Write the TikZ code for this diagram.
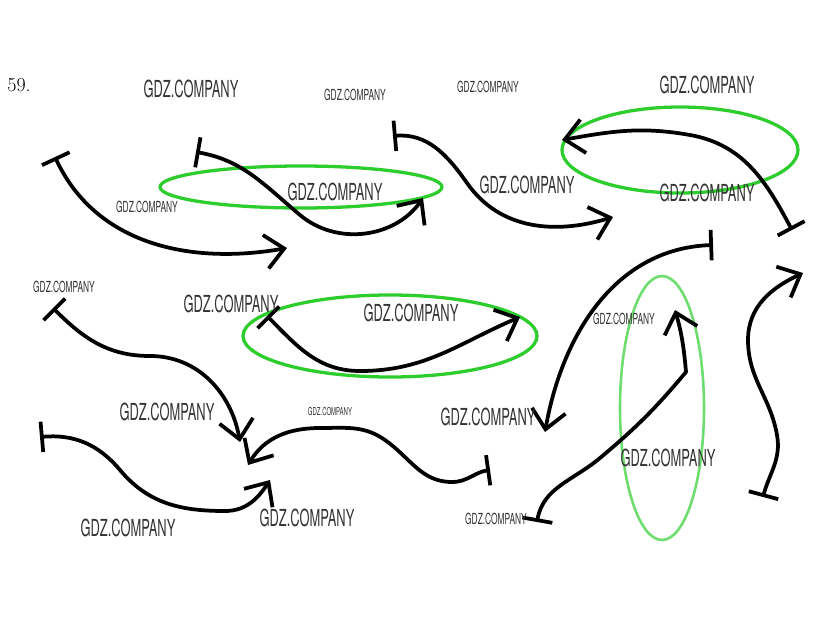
\documentclass[tikz,border=0pt]{standalone}
\usepackage{fontspec}
\newfontfamily\wmfont[FakeStretch=0.55]{TeX Gyre Heros}
\usetikzlibrary{arrows.meta}
\definecolor{ringgreen}{RGB}{45,205,45}
\definecolor{ringpale}{RGB}{110,220,110}

\begin{document}
\begin{tikzpicture}[x=0.03cm,y=-0.03cm,
  crv/.style={line width=3.2pt,line cap=round,line join=round,
    arrows={Bar[width=26pt]-Straight Barb[length=16pt,width=29pt]}},
  ring/.style={draw=ringgreen,line width=2.8pt},
  wmbig/.style={font=\wmfont\fontsize{20}{20}\selectfont,inner sep=0pt,text=black!80},
  wmsmall/.style={font=\wmfont\fontsize{13}{13}\selectfont,inner sep=0pt,text=black!80},
  wmtiny/.style={font=\wmfont\fontsize{9.3}{9.3}\selectfont,inner sep=0pt,text=black!80}]
  \useasboundingbox[fill=white] (0,0) rectangle (823,641);

  \node[font=\fontsize{17}{17}\selectfont,inner sep=0pt] (num) at (19,85) {59.};

  % green rings
  \draw[ring] (301,187) ellipse [x radius=141,y radius=21];
  \draw[ring] (680,150) ellipse [x radius=118,y radius=43];
  \draw[ring] (390,336) ellipse [x radius=147,y radius=41];
  \draw[ring,draw=ringpale,line width=2.2pt] (662,408) ellipse [x radius=42,y radius=132];

  % end points
  \coordinate (As) at (55,157);  \coordinate (Ae) at (287,248);
  \coordinate (Bs) at (196,152); \coordinate (Be) at (423,198);
  \coordinate (Cs) at (393,136); \coordinate (Ce) at (613,217);
  \coordinate (Ds) at (792,230); \coordinate (De) at (562,140);
  \coordinate (Es) at (53,308);  \coordinate (Ee) at (240,442);
  \coordinate (Fs) at (267,316); \coordinate (Fe) at (520,317);
  \coordinate (Gs) at (40,437);  \coordinate (Ge) at (270,480);
  \coordinate (Hs) at (490,470); \coordinate (He) at (248,465);
  \coordinate (Is) at (713,245); \coordinate (Ie) at (545,432);
  \coordinate (Js) at (537,522); \coordinate (Je) at (675,310);
  \coordinate (Ks) at (763,497); \coordinate (Ke) at (803,273);

  % arrows
  \draw[crv] (As) to[out=-65,in=-170] (Ae);
  \draw[crv] (Bs) to[out=-10,in=140] (300,215) to[out=-40,in=-125] (Be);
  \draw[crv] (Cs) to[out=5,in=125] (467,183) to[out=-55,in=-163] (Ce);
  \draw[crv] (Ds) to[out=118,in=-10] (690,135) to[out=170,in=10] (De);
  \draw[crv] (Es) to[out=-45,in=180] (150,356) to[out=0,in=100] (Ee);
  \draw[crv] (Fs) to[out=-45,in=180] (360,371) to[out=0,in=-157] (Fe);
  \draw[crv] (Gs) to[out=5,in=130] (120,470) to[out=-50,in=180] (225,511) to[out=0,in=-123] (Ge);
  \draw[crv] (Hs) to[out=-172,in=0] (452,482) to[out=180,in=-35] (385,440)
    to[out=145,in=0] (320,428) to[out=180,in=59] (He);
  \draw[crv] (Is) to[out=-178,in=80] (Ie);
  \draw[crv] (Js) to[out=80,in=-140] (600,458) to[out=40,in=-130] (686,372) to[out=95,in=-74] (Je);
  \draw[crv] (Ks) to[out=75,in=-80] (777,435) to[out=100,in=-90] (748,340) to[out=90,in=-155] (Ke);

  % watermarks
  \node[wmbig] (w1) at (191,89) {GDZ.COMPANY};
  \node[wmsmall] (w2) at (355,95) {GDZ.COMPANY};
  \node[wmsmall] (w3) at (488,87) {GDZ.COMPANY};
  \node[wmbig] (w4) at (707,85) {GDZ.COMPANY};
  \node[wmsmall] (w5) at (147,207) {GDZ.COMPANY};
  \node[wmbig] (w6) at (335,192) {GDZ.COMPANY};
  \node[wmbig] (w7) at (527,185) {GDZ.COMPANY};
  \node[wmbig] (w8) at (707,193) {GDZ.COMPANY};
  \node[wmsmall] (w9) at (64,287) {GDZ.COMPANY};
  \node[wmbig] (w10) at (231,304) {GDZ.COMPANY};
  \node[wmbig] (w11) at (411,313) {GDZ.COMPANY};
  \node[wmsmall] (w12) at (624,319) {GDZ.COMPANY};
  \node[wmbig] (w13) at (167,412) {GDZ.COMPANY};
  \node[wmtiny] (w14) at (330,412) {GDZ.COMPANY};
  \node[wmbig] (w15) at (488,417) {GDZ.COMPANY};
  \node[wmbig] (w16) at (668,458) {GDZ.COMPANY};
  \node[wmbig] (w17) at (128,528) {GDZ.COMPANY};
  \node[wmbig] (w18) at (307,518) {GDZ.COMPANY};
  \node[wmsmall] (w19) at (496,519) {GDZ.COMPANY};
\end{tikzpicture}
\end{document}
